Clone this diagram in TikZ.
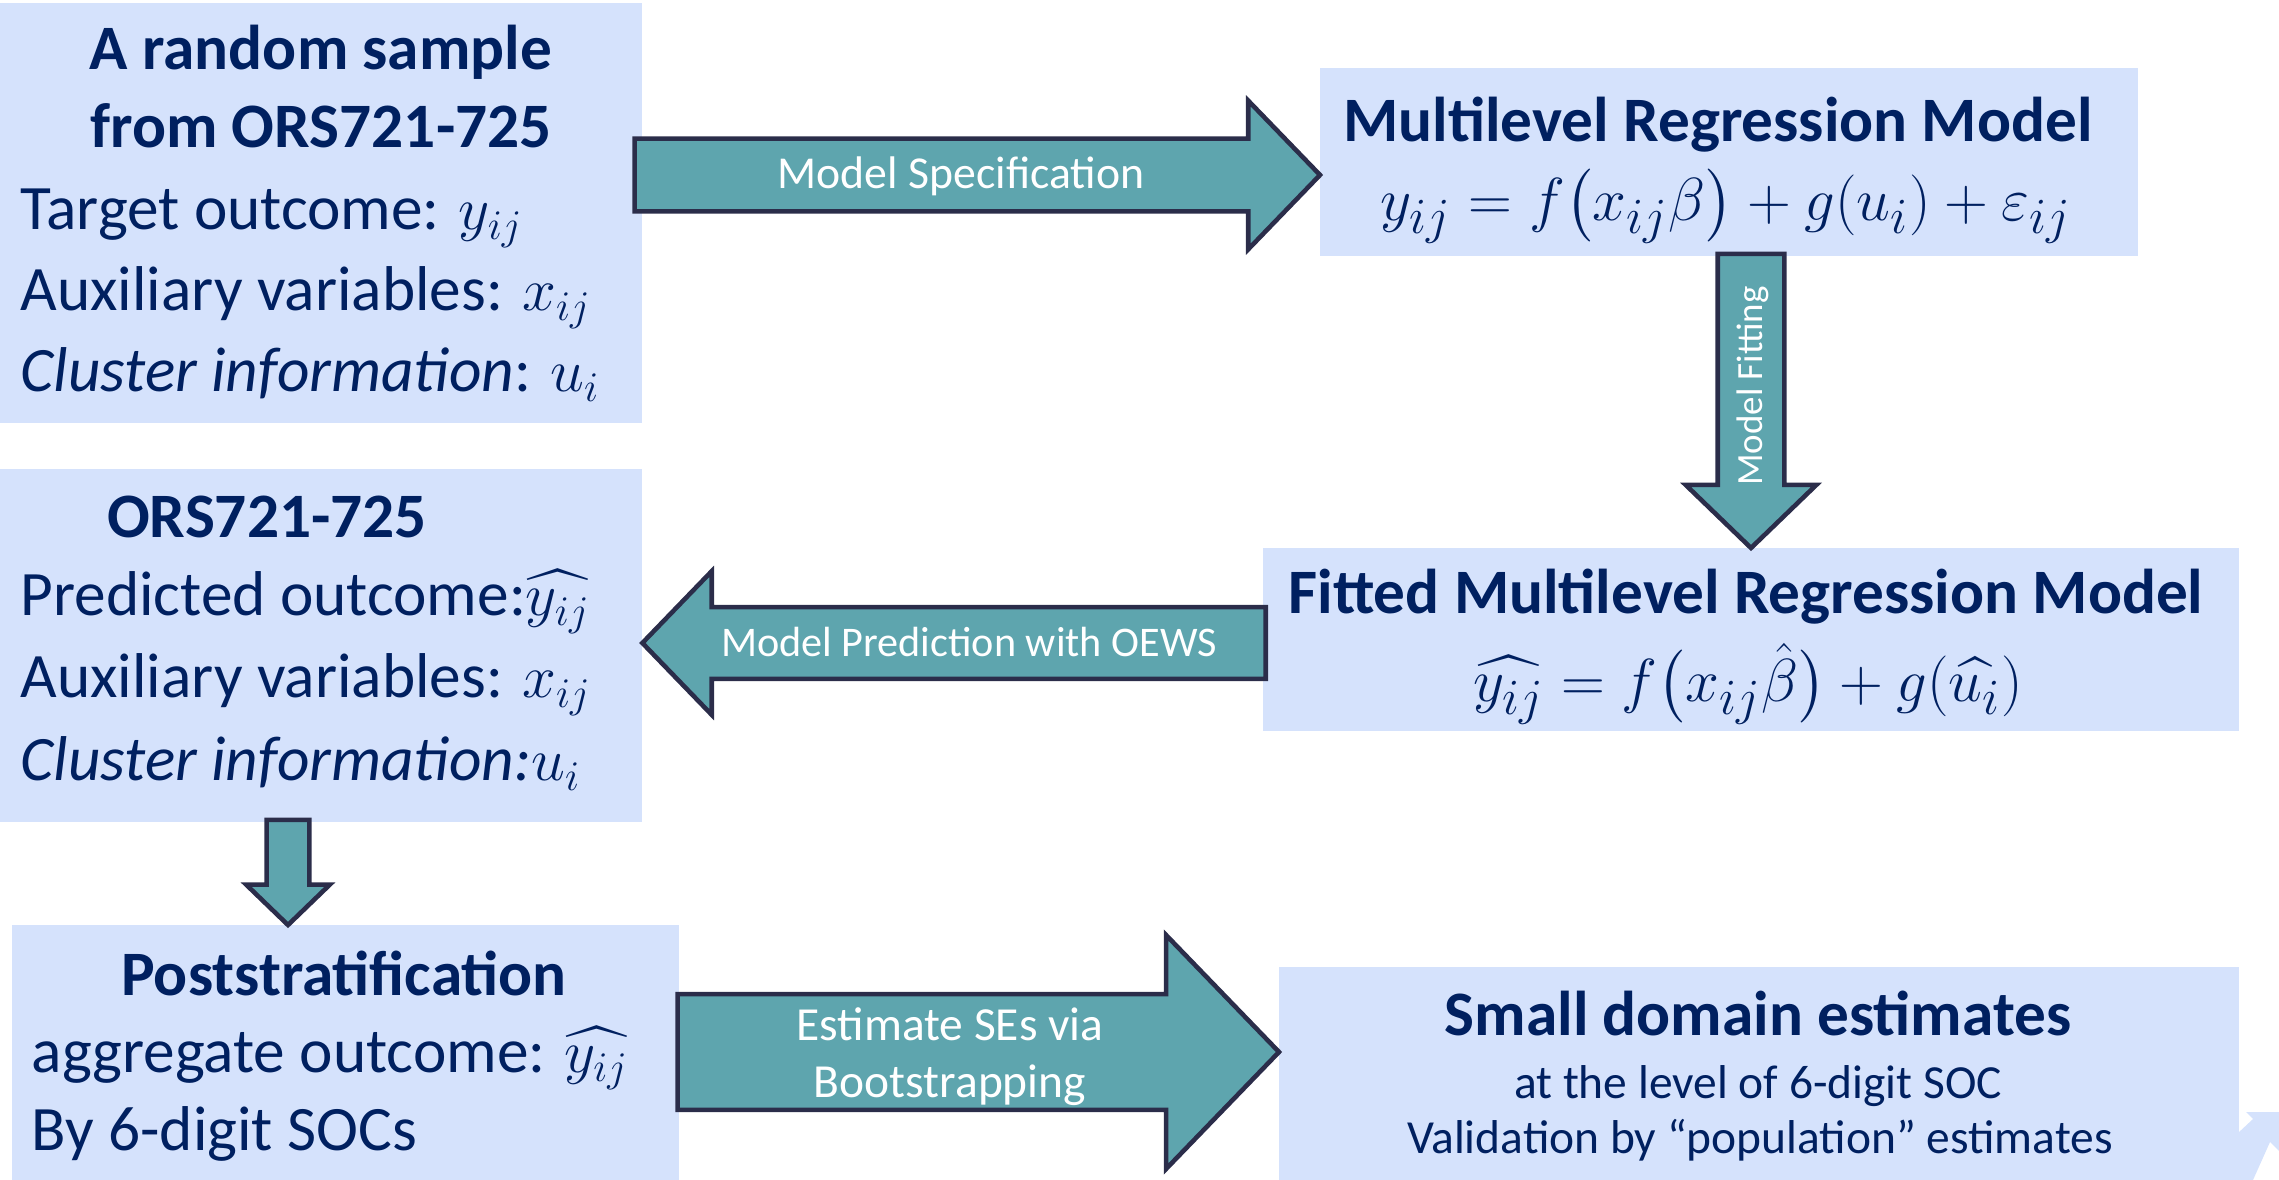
\documentclass[tikz,border=0pt]{standalone}
\usepackage{amsmath}
\usepackage{fontspec}
\setmainfont{Carlito}
\usetikzlibrary{shapes.arrows}

\definecolor{boxfill}{RGB}{213,226,252}
\definecolor{navy}{RGB}{0,32,96}
\definecolor{arrowfill}{RGB}{94,165,174}
\definecolor{arrowline}{RGB}{43,45,74}

\tikzset{
  box/.style={fill=boxfill, inner sep=0pt, outer sep=0pt, anchor=north west},
  head/.style={text=navy, inner sep=0pt, anchor=base, font=\fontsize{18}{21.6}\selectfont\bfseries},
  entry/.style={text=navy, inner sep=0pt, anchor=base west, font=\fontsize{18}{21.6}\selectfont},
  formula/.style={text=navy, inner sep=0pt, anchor=base, font=\fontsize{19}{22.8}\selectfont},
  note/.style={text=navy, inner sep=0pt, anchor=base, font=\fontsize{13.5}{16}\selectfont},
  blockarrow/.style={single arrow, draw=arrowline, fill=arrowfill, line width=1.3pt,
    inner xsep=0pt, outer sep=0pt, single arrow tip angle=92, anchor=tip, minimum height=#1},
  arrowtext/.style={text=white, inner sep=0pt, anchor=base, font=\fontsize{13}{15.6}\selectfont},
}

\begin{document}
\begin{tikzpicture}[x=0.01cm, y=-0.01cm]
  \useasboundingbox (0,0) rectangle (2279,1180);

  % the six boxes
  \node[box, minimum width=6.42cm, minimum height=4.20cm] (sample) at (0,3) {};
  \node[box, minimum width=8.17cm, minimum height=1.88cm] (model) at (1320,68) {};
  \node[box, minimum width=9.75cm, minimum height=1.83cm] (fitted) at (1263,548) {};
  \node[box, minimum width=6.42cm, minimum height=3.53cm] (ors) at (0,469) {};
  \node[box, minimum width=6.67cm, minimum height=2.56cm] (post) at (12,925) {};
  \node[box, minimum width=9.59cm, minimum height=2.13cm] (domain) at (1279,967) {};
  % bit of a light arrow in the corner
  \fill[boxfill] (2238,1133) -- (2253,1119) -- (2246,1112) -- (2279,1112) -- (2279,1151)
    -- (2270,1142) -- (2253,1180) -- (2238,1180) -- cycle;

  % sample box
  \node[head] (sampleA) at (321,70) {A random sample};
  \node[head] (sampleB) at (321,148) {from ORS721-725};
  \node[entry] (sampleY) at (20,230) {Target outcome: $y_{ij}$};
  \node[entry] (sampleX) at (20,311) {Auxiliary variables: $x_{ij}$};
  \node[entry] (sampleU) at (20,392) {\textit{Cluster information}: $u_i$};

  % model box
  \node[head] (modelT) at (1718,142) {Multilevel Regression Model};
  \node[formula] (modelF) at (1726,221)
    {$y_{ij} = f\bigl(x_{ij}\beta\bigr) + g(u_i) + \varepsilon_{ij}$};

  % fitted box
  \node[head] (fittedT) at (1746,614) {Fitted Multilevel Regression Model};
  \node[formula] (fittedF) at (1748,702)
    {$\widehat{y_{ij}} = f\bigl(x_{ij}\hat{\beta}\bigr) + g(\widehat{u_i})$};

  % ORS box
  \node[head] (orsT) at (267,538) {ORS721-725};
  \node[entry] (orsY) at (20,616) {Predicted outcome:$\widehat{y_{ij}}$};
  \node[entry] (orsX) at (20,698) {Auxiliary variables: $x_{ij}$};
  \node[entry] (orsU) at (20,781) {\textit{Cluster information:}$u_i$};

  % poststratification box
  \node[head] (postT) at (344,995) {Poststratification};
  \node[entry] (postY) at (31,1072) {aggregate outcome: $\widehat{y_{ij}}$};
  \node[entry] (postS) at (31,1150) {By 6-digit SOCs};

  % estimates box
  \node[head] (domainT) at (1758,1035) {Small domain estimates};
  \node[note] (domainA) at (1758,1098) {at the level of 6-digit SOC};
  \node[note] (domainB) at (1760,1153) {Validation by “population” estimates};

  % block arrows
  \node[blockarrow=6.85cm, inner ysep=.34cm, single arrow head extend=.38cm]
    (spec) at (model.west |- 0,175) {};
  \node[blockarrow=2.94cm, inner ysep=.31cm, single arrow head extend=.32cm, rotate=-90]
    (fit) at (1751,0 |- fitted.north) {};
  \node[blockarrow=6.23cm, inner ysep=.335cm, single arrow head extend=.36cm, rotate=180]
    (pred) at (ors.east |- 0,643) {};
  \node[blockarrow=1.05cm, inner ysep=.19cm, single arrow head extend=.205cm, rotate=-90]
    (agg) at (288,0 |- post.north) {};
  \node[blockarrow=6.01cm, inner ysep=.555cm, single arrow head extend=.59cm]
    (est) at (domain.west |- 0,1052) {};

  % arrow labels
  \node[arrowtext] (specT) at (961,189) {Model Specification};
  \node[arrowtext, anchor=center, rotate=90, font=\fontsize{10.5}{12}\selectfont]
    (fitT) at (1753,386) {Model Fitting};
  \node[arrowtext, font=\fontsize{12}{14.4}\selectfont] (predT) at (969,657) {Model Prediction with OEWS};
  \node[arrowtext, font=\fontsize{13.5}{16}\selectfont] (estA) at (950,1040) {Estimate SEs via};
  \node[arrowtext, font=\fontsize{13.5}{16}\selectfont] (estB) at (950,1097) {Bootstrapping};
\end{tikzpicture}
\end{document}
